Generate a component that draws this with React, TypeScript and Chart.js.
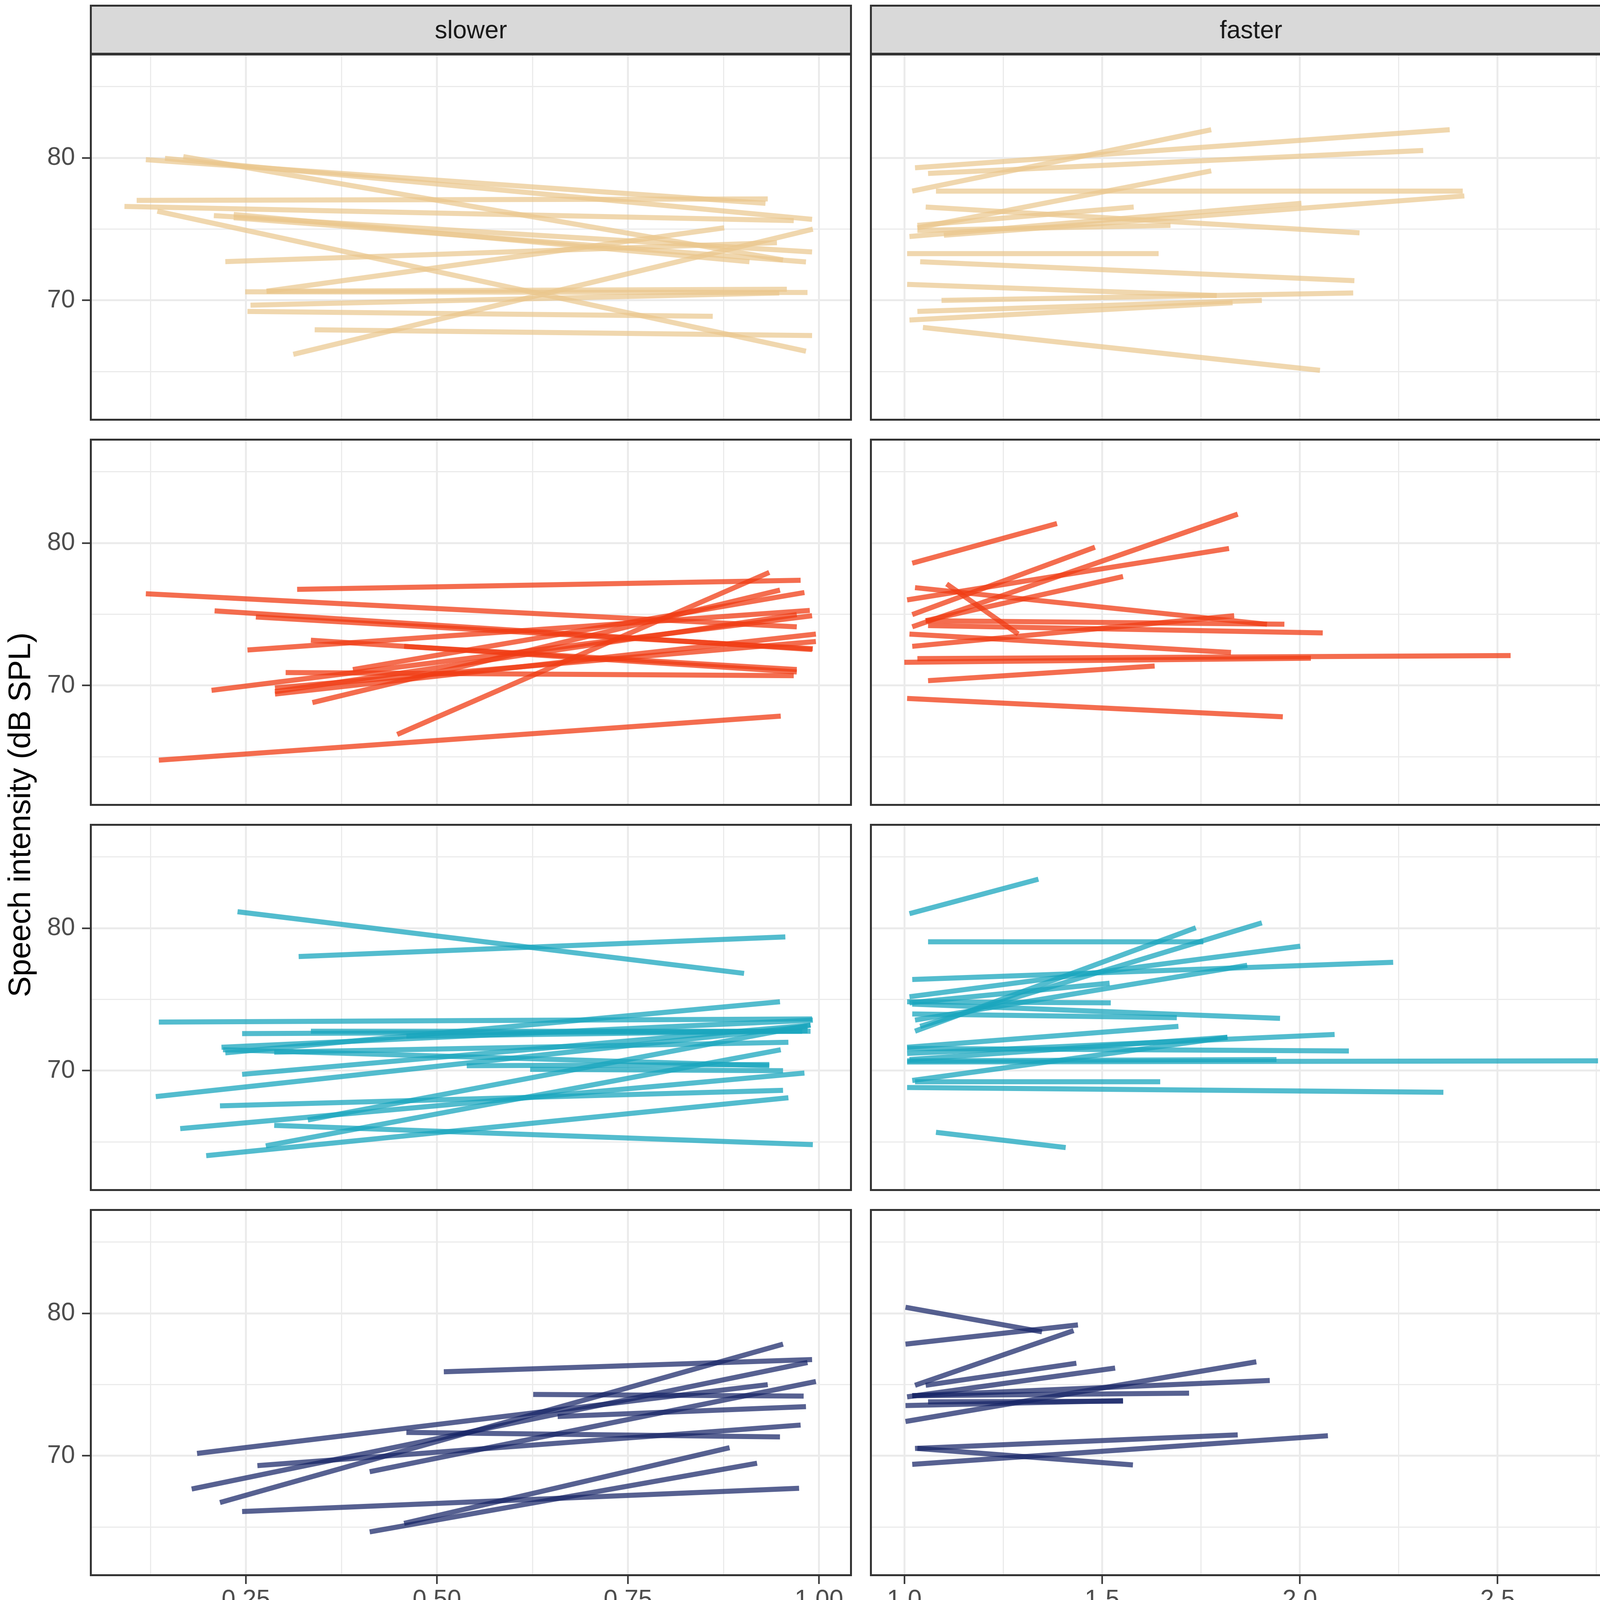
import { useEffect, useRef } from 'react';
import { Chart, registerables } from 'chart.js';

Chart.register(...registerables);
Chart.defaults.font.family = '"Liberation Sans", Arial, sans-serif';

// one participant = one segment: [x0, y0, x1, y1]
type Seg = [number, number, number, number];

const GROUPS = ['YC', 'OC', 'PD-Med', 'PD-DBS'];
const RATES = ['slower', 'faster'];
const GROUP_COLORS = [
  'rgba(234,198,140,0.7)',
  'rgba(240,60,20,0.75)',
  'rgba(26,166,189,0.75)',
  'rgba(22,36,102,0.72)',
];

const YC_SLOWER: Seg[] = [
  [0.119, 79.88, 0.930, 76.81],
  [0.144, 79.97, 0.991, 75.69],
  [0.168, 80.09, 0.953, 72.84],
  [0.107, 77.02, 0.933, 77.12],
  [0.091, 76.59, 0.967, 75.60],
  [0.134, 76.26, 0.983, 66.43],
  [0.208, 75.95, 0.991, 73.40],
  [0.234, 76.03, 0.909, 72.71],
  [0.234, 75.80, 0.983, 72.70],
  [0.223, 72.72, 0.945, 74.05],
  [0.277, 70.64, 0.876, 75.09],
  [0.312, 66.21, 0.992, 75.00],
  [0.249, 70.60, 0.985, 70.55],
  [0.277, 70.64, 0.958, 70.78],
  [0.256, 69.66, 0.948, 70.52],
  [0.252, 69.22, 0.861, 68.88],
  [0.340, 67.93, 0.991, 67.53],
];

const YC_FASTER: Seg[] = [
  [1.020, 77.67, 1.776, 81.98],
  [1.027, 79.31, 2.379, 81.98],
  [1.060, 78.91, 2.312, 80.52],
  [1.080, 77.67, 2.412, 77.67],
  [1.033, 75.09, 1.776, 79.09],
  [1.054, 76.55, 2.151, 74.74],
  [1.013, 74.48, 2.004, 76.81],
  [1.033, 75.26, 1.580, 76.55],
  [1.100, 74.57, 2.416, 77.33],
  [1.033, 74.91, 1.673, 75.26],
  [1.007, 73.28, 1.643, 73.28],
  [1.040, 72.71, 2.138, 71.38],
  [1.007, 71.12, 1.790, 70.34],
  [1.094, 70.00, 2.135, 70.52],
  [1.033, 69.22, 1.904, 70.00],
  [1.013, 68.62, 1.830, 69.83],
  [1.047, 68.10, 2.051, 65.09],
];

const OC_SLOWER: Seg[] = [
  [0.317, 76.75, 0.976, 77.39],
  [0.119, 76.44, 0.971, 74.12],
  [0.209, 75.24, 0.991, 72.53],
  [0.263, 74.81, 0.992, 72.58],
  [0.335, 73.18, 0.971, 70.95],
  [0.457, 72.75, 0.971, 71.12],
  [0.252, 72.49, 0.988, 75.27],
  [0.302, 70.91, 0.967, 70.69],
  [0.205, 69.66, 0.991, 74.90],
  [0.288, 69.57, 0.971, 74.98],
  [0.288, 69.40, 0.996, 73.61],
  [0.337, 68.80, 0.949, 76.70],
  [0.390, 71.12, 0.981, 76.53],
  [0.448, 66.56, 0.935, 77.94],
  [0.136, 64.76, 0.950, 67.85],
  [0.288, 69.83, 0.996, 73.09],
];

const OC_FASTER: Seg[] = [
  [1.020, 78.59, 1.386, 81.37],
  [1.020, 74.98, 1.482, 79.71],
  [1.007, 76.01, 1.821, 79.62],
  [1.020, 74.12, 1.843, 82.03],
  [1.054, 74.55, 1.553, 77.65],
  [1.027, 76.87, 1.917, 74.30],
  [1.107, 77.13, 1.288, 73.61],
  [1.060, 74.21, 2.058, 73.69],
  [1.054, 74.55, 1.961, 74.30],
  [1.020, 72.75, 1.834, 74.90],
  [1.013, 73.61, 1.826, 72.32],
  [1.033, 71.89, 2.533, 72.10],
  [1.000, 71.63, 2.028, 71.92],
  [1.060, 70.34, 1.633, 71.37],
  [1.007, 69.09, 1.957, 67.80],
];

const PD_MED_SLOWER: Seg[] = [
  [0.239, 81.16, 0.902, 76.83],
  [0.319, 78.01, 0.956, 79.39],
  [0.136, 73.41, 0.991, 73.63],
  [0.245, 72.60, 0.978, 72.77],
  [0.335, 72.77, 0.989, 72.77],
  [0.218, 71.64, 0.992, 73.55],
  [0.223, 71.25, 0.949, 74.84],
  [0.287, 71.30, 0.960, 71.99],
  [0.245, 69.74, 0.989, 73.20],
  [0.132, 68.18, 0.985, 73.11],
  [0.216, 67.53, 0.953, 68.62],
  [0.164, 65.93, 0.981, 69.83],
  [0.331, 66.54, 0.989, 73.20],
  [0.276, 64.72, 0.950, 71.47],
  [0.198, 64.03, 0.960, 68.10],
  [0.287, 66.16, 0.992, 64.81],
  [0.460, 72.42, 0.985, 72.80],
  [0.622, 70.09, 0.953, 70.00],
  [0.539, 70.35, 0.935, 70.43],
  [0.220, 71.47, 0.935, 70.35],
];

const PD_MED_FASTER: Seg[] = [
  [1.013, 81.02, 1.339, 83.44],
  [1.060, 79.05, 1.756, 79.05],
  [1.027, 72.77, 1.737, 80.03],
  [1.040, 73.11, 1.904, 80.38],
  [1.020, 76.40, 2.236, 77.61],
  [1.013, 75.19, 2.001, 78.74],
  [1.013, 74.76, 1.519, 76.14],
  [1.007, 74.84, 1.522, 74.76],
  [1.020, 74.67, 1.950, 73.67],
  [1.027, 73.55, 1.867, 77.40],
  [1.020, 73.98, 1.689, 73.72],
  [1.007, 71.64, 1.693, 73.11],
  [1.013, 70.78, 1.817, 72.34],
  [1.007, 71.21, 2.088, 72.54],
  [1.007, 71.56, 2.124, 71.38],
  [1.007, 70.61, 2.754, 70.69],
  [1.007, 70.69, 1.941, 70.78],
  [1.027, 69.22, 1.647, 69.22],
  [1.007, 68.82, 2.363, 68.48],
  [1.080, 65.67, 1.408, 64.60],
  [1.020, 69.31, 1.817, 72.34],
];

const PD_DBS_SLOWER: Seg[] = [
  [0.509, 75.90, 0.991, 76.76],
  [0.186, 70.17, 0.933, 75.00],
  [0.179, 67.67, 0.985, 76.55],
  [0.216, 66.72, 0.953, 77.84],
  [0.412, 68.88, 0.996, 75.22],
  [0.626, 74.31, 0.980, 74.19],
  [0.658, 72.76, 0.983, 73.45],
  [0.460, 71.64, 0.949, 71.33],
  [0.265, 69.31, 0.976, 72.16],
  [0.245, 66.09, 0.974, 67.72],
  [0.457, 65.26, 0.883, 70.57],
  [0.412, 64.66, 0.919, 69.48],
];

const PD_DBS_FASTER: Seg[] = [
  [1.003, 80.43, 1.348, 78.71],
  [1.003, 77.84, 1.439, 79.19],
  [1.027, 74.95, 1.428, 78.79],
  [1.054, 74.95, 1.435, 76.50],
  [1.007, 74.14, 1.533, 76.16],
  [1.003, 72.41, 1.890, 76.60],
  [1.020, 74.22, 1.924, 75.29],
  [1.020, 74.22, 1.720, 74.40],
  [1.003, 73.53, 1.553, 73.88],
  [1.060, 73.79, 1.553, 73.84],
  [1.027, 70.52, 1.843, 71.47],
  [1.020, 69.40, 2.071, 71.41],
  [1.033, 70.52, 1.578, 69.36],
];

const PANEL_DATA: Seg[][][] = [
  [YC_SLOWER, YC_FASTER],
  [OC_SLOWER, OC_FASTER],
  [PD_MED_SLOWER, PD_MED_FASTER],
  [PD_DBS_SLOWER, PD_DBS_FASTER],
];

// axis breaks (minor + major) and the labelled ones
const SLOWER_TICKS = [0.125, 0.25, 0.375, 0.5, 0.625, 0.75, 0.875, 1.0];
const SLOWER_LABELS = [0.25, 0.5, 0.75, 1.0];
const FASTER_TICKS = [1.0, 1.25, 1.5, 1.75, 2.0, 2.25, 2.5, 2.75];
const FASTER_LABELS = [1.0, 1.5, 2.0, 2.5];
const Y_TICKS = [65, 70, 75, 80, 85];
const Y_LABELS = [70, 80];

const X_RANGES = [[0.0457, 1.0432], [0.913, 2.840]];
const Y_RANGE = [61.55, 87.33];

// layout (px)
const PANEL_W = 1951;
const PANEL_H = 940;
const COL_LEFT = [230, 2227];
const ROW_TOP = [137, 1123, 2109, 3095];
const Y_AXIS_W = 230;
const X_AXIS_H = 160;
const STRIP_TOP = 12;
const STRIP_W = 129;
const LINE_W = 5;

const near = (list: number[], v: number) => list.some((t) => Math.abs(t - v) < 1e-6);

const panelBorder = {
  id: 'panelBorder',
  afterDraw(chart: any) {
    const { ctx, chartArea: a } = chart;
    ctx.save();
    ctx.strokeStyle = '#333333';
    ctx.lineWidth = LINE_W;
    ctx.strokeRect(a.left + LINE_W / 2, a.top + LINE_W / 2, a.right - a.left - LINE_W, a.bottom - a.top - LINE_W);
    ctx.restore();
  },
};

// chart.js pads vertical axes by half a label; panels must line up exactly
const noPadding = (sc: any) => {
  sc.paddingTop = 0;
  sc.paddingBottom = 0;
  sc.paddingLeft = 0;
  sc.paddingRight = 0;
};

function Panel({ row, col }: { row: number; col: number }) {
  const ref = useRef<HTMLCanvasElement | null>(null);
  const showY = col === 0;
  const showX = row === GROUPS.length - 1;
  const width = PANEL_W + (showY ? Y_AXIS_W : 0);
  const height = PANEL_H + (showX ? X_AXIS_H : 0);

  useEffect(() => {
    if (!ref.current) return;
    const segs = PANEL_DATA[row][col];
    const color = GROUP_COLORS[row];
    const xTicks = col === 0 ? SLOWER_TICKS : FASTER_TICKS;
    const xLabels = col === 0 ? SLOWER_LABELS : FASTER_LABELS;
    const digits = col === 0 ? 2 : 1;

    const chart = new Chart(ref.current, {
      type: 'line',
      data: {
        datasets: segs.map((s) => ({
          data: [{ x: s[0], y: s[1] }, { x: s[2], y: s[3] }],
          borderColor: color,
          borderWidth: 13,
          borderCapStyle: 'butt',
          pointRadius: 0,
          fill: false,
          tension: 0,
        })),
      },
      options: {
        animation: false,
        responsive: false,
        devicePixelRatio: 1,
        events: [],
        layout: { padding: 0, autoPadding: false },
        plugins: { legend: { display: false }, tooltip: { enabled: false } },
        scales: {
          x: {
            type: 'linear',
            bounds: 'data',
            min: X_RANGES[col][0],
            max: X_RANGES[col][1],
            afterBuildTicks: (sc: any) => { sc.ticks = xTicks.map((v) => ({ value: v })); },
            afterFit: (sc: any) => { sc.height = showX ? X_AXIS_H : 0; noPadding(sc); },
            border: { display: false },
            grid: {
              color: '#EBEBEB',
              lineWidth: (c: any) => (near(xLabels, c.tick.value) ? 5 : 3),
              drawTicks: showX,
              tickLength: 20,
              tickWidth: 4,
              tickColor: (c: any) => (near(xLabels, c.tick.value) ? '#333333' : 'rgba(0,0,0,0)'),
            },
            ticks: {
              display: showX,
              autoSkip: false,
              maxRotation: 0,
              padding: 4,
              color: '#4D4D4D',
              font: { size: 64 },
              callback: (v: any) => (near(xLabels, Number(v)) ? Number(v).toFixed(digits) : ''),
            },
          },
          y: {
            type: 'linear',
            bounds: 'data',
            min: Y_RANGE[0],
            max: Y_RANGE[1],
            afterBuildTicks: (sc: any) => { sc.ticks = Y_TICKS.map((v) => ({ value: v })); },
            afterFit: (sc: any) => { sc.width = showY ? Y_AXIS_W : 0; noPadding(sc); },
            border: { display: false },
            grid: {
              color: '#EBEBEB',
              lineWidth: (c: any) => (near(Y_LABELS, c.tick.value) ? 5 : 3),
              drawTicks: showY,
              tickLength: 20,
              tickWidth: 4,
              tickColor: (c: any) => (near(Y_LABELS, c.tick.value) ? '#333333' : 'rgba(0,0,0,0)'),
            },
            ticks: {
              display: showY,
              autoSkip: false,
              padding: 18,
              color: '#4D4D4D',
              font: { size: 64 },
              callback: (v: any) => (near(Y_LABELS, Number(v)) ? String(Number(v)) : ''),
            },
          },
        },
      },
      plugins: [panelBorder],
    } as any);

    return () => chart.destroy();
  }, [row, col, showX, showY]);

  return (
    <canvas
      ref={ref}
      width={width}
      height={height}
      style={{ position: 'absolute', left: COL_LEFT[col] - (showY ? Y_AXIS_W : 0), top: ROW_TOP[row], width, height }}
    />
  );
}

const stripStyle = {
  position: 'absolute' as const,
  background: '#D9D9D9',
  border: `${LINE_W}px solid #333333`,
  boxSizing: 'border-box' as const,
  display: 'flex',
  alignItems: 'center',
  justifyContent: 'center',
  fontSize: 64,
  color: '#1A1A1A',
};

export default function App() {
  const panelsRight = COL_LEFT[1] + PANEL_W;
  const plotCenterW = panelsRight - COL_LEFT[0];
  return (
    <div
      style={{
        position: 'absolute',
        left: 0,
        top: 0,
        width: 4318,
        height: 4562,
        background: '#FFFFFF',
        fontFamily: '"Liberation Sans", Arial, sans-serif',
        overflow: 'hidden',
      }}
    >
      {RATES.map((r, c) => (
        <div key={r} style={{ ...stripStyle, left: COL_LEFT[c], top: STRIP_TOP, width: PANEL_W, height: ROW_TOP[0] - STRIP_TOP + LINE_W / 2 }}>
          {r}
        </div>
      ))}
      {GROUPS.map((g, r) => (
        <div key={g} style={{ ...stripStyle, left: panelsRight - 1, top: ROW_TOP[r], width: STRIP_W, height: PANEL_H }}>
          <span style={{ writingMode: 'vertical-rl' }}>{g}</span>
        </div>
      ))}
      {GROUPS.map((g, r) => RATES.map((rate, c) => <Panel key={g + rate} row={r} col={c} />))}

      <div
        style={{
          position: 'absolute',
          left: 0,
          top: ROW_TOP[0],
          width: 100,
          height: ROW_TOP[3] + PANEL_H - ROW_TOP[0],
          display: 'flex',
          alignItems: 'center',
          justifyContent: 'center',
          fontSize: 80,
          color: '#000000',
        }}
      >
        <span style={{ writingMode: 'vertical-rl', transform: 'rotate(180deg)', whiteSpace: 'nowrap' }}>Speech intensity (dB SPL)</span>
      </div>

      <div
        style={{
          position: 'absolute',
          left: COL_LEFT[0],
          top: 4145,
          width: plotCenterW,
          textAlign: 'center',
          fontSize: 80,
          lineHeight: '91px',
          color: '#000000',
        }}
      >
        <div>Proportional rate</div>
        <div>(habitual to faster)</div>
      </div>

      <div
        style={{
          position: 'absolute',
          left: COL_LEFT[0],
          top: 4467,
          width: plotCenterW,
          height: 100,
          display: 'flex',
          alignItems: 'center',
          justifyContent: 'center',
          color: '#000000',
        }}
      >
        <span style={{ fontSize: 80, marginRight: 64 }}>Group</span>
        {GROUPS.map((g, i) => (
          <span key={g} style={{ display: 'flex', alignItems: 'center', marginRight: i < GROUPS.length - 1 ? 62 : 0 }}>
            <span style={{ display: 'inline-block', width: 102, height: 14, background: GROUP_COLORS[i], marginRight: 53 }} />
            <span style={{ fontSize: 64 }}>{g}</span>
          </span>
        ))}
      </div>
    </div>
  );
}
